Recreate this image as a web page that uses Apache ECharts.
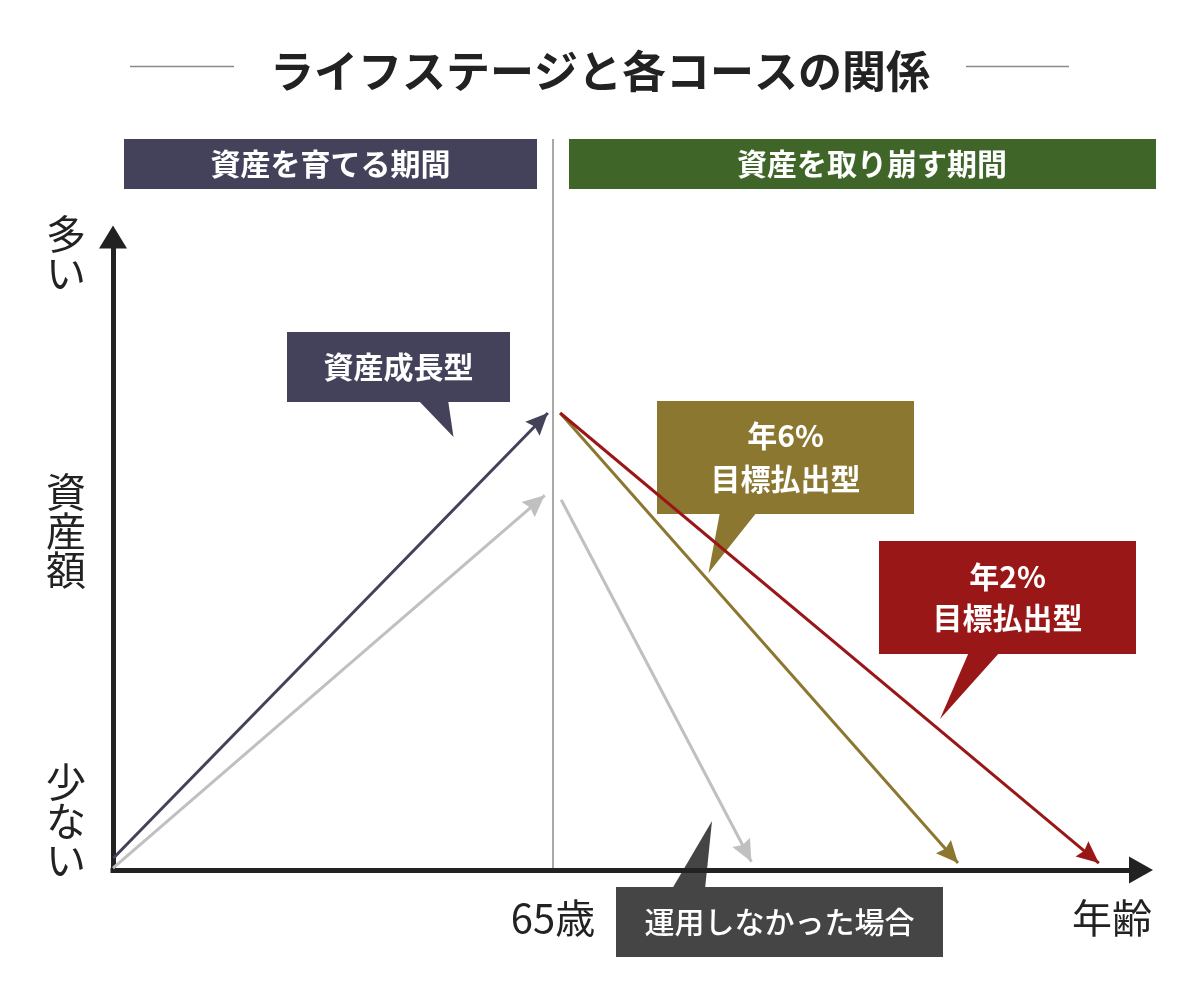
<!DOCTYPE html>
<html lang="ja">
<head>
<meta charset="utf-8">
<title>ライフステージと各コースの関係</title>
<script src="https://cdn.jsdelivr.net/npm/echarts@6/dist/echarts.min.js"></script>
<style>
  html, body { margin: 0; padding: 0; background: #fff; }
  #chart { width: 1200px; height: 1000px; }
</style>
</head>
<body>
<div id="chart"></div>
<script>
// 横軸は年齢、縦軸は資産額（どちらも目盛りなしの相対値 0〜100）
const ageRange = [0, 100];
const assetRange = [0, 100];
const ageTickValues = [42.8];
const ageTickLabels = ['65歳'];
const assetTickValues = [7.7, 53.6, 97.5];
const assetTickLabels = ['少\nな\nい', '資\n産\n額', '多\nい'];

// 各コースの矢印（始点 → 終点）
const courseNames = ['資産成長型', '運用しなかった場合（積立）', '運用しなかった場合（取り崩し）', '年6%目標払出型', '年2%目標払出型'];
const startAge   = [0.05, 0, 43.6, 43.5, 43.5];
const startAsset = [1.9, 0.3, 58.5, 72.2, 72.2];
const endAge     = [42.3, 42.0, 62.1, 82.2, 95.9];
const endAsset   = [72.2, 59.2, 1.3, 1.1, 1.1];

const FONT = '"Noto Sans CJK JP", "Noto Sans", sans-serif';
const NAVY = '#43425a';
const GREEN = '#3f6628';
const OLIVE = '#8b7730';
const RED = '#9a1717';
const LIGHT = '#c0c0c0';
const DARK = '#454545';
const INK = '#222';
const courseColors = [NAVY, LIGHT, LIGHT, OLIVE, RED];
// 先端が上を向いた、後ろが少しへこんだ三角形
const ARROW_HEAD = 'path://M10,0 L20,22 L10,19 L0,22 Z';

// 吹き出し（四角＋しっぽ＋文字）
function callout(box, tail, color, text, weight, lineHeight) {
  return {
    type: 'group',
    z: 100,
    children: [
      { type: 'polygon', shape: { points: tail }, style: { fill: color } },
      { type: 'rect', shape: { x: box[0], y: box[1], width: box[2], height: box[3] }, style: { fill: color } },
      {
        type: 'text',
        style: {
          text: text, x: box[0] + box[2] / 2, y: box[1] + box[3] / 2,
          align: 'center', verticalAlign: 'middle',
          fill: '#fff', fontSize: 30, fontWeight: weight, fontFamily: FONT, lineHeight: lineHeight
        }
      }
    ]
  };
}

function header(x, w, textX, color, text) {
  return {
    type: 'group',
    children: [
      { type: 'rect', shape: { x: x, y: 139, width: w, height: 50 }, style: { fill: color } },
      {
        type: 'text',
        style: {
          text: text, x: textX, y: 164, align: 'center', verticalAlign: 'middle',
          fill: '#fff', fontSize: 30, fontWeight: 'bold', fontFamily: FONT
        }
      }
    ]
  };
}

const chart = echarts.init(document.getElementById('chart'));

const series = courseNames.map(function (name, i) {
  return {
    type: 'line',
    name: name,
    data: [],
    silent: true,
    markLine: {
      silent: true,
      animation: false,
      symbol: ['none', ARROW_HEAD],
      symbolSize: 20,
      label: { show: false },
      emphasis: { disabled: true },
      lineStyle: { color: courseColors[i], width: 3, type: 'solid' },
      data: [[
        { coord: [startAge[i], startAsset[i]], symbol: 'none' },
        { coord: [endAge[i], endAsset[i]], symbol: ARROW_HEAD, symbolSize: [20, 22], symbolOffset: [0, '50%'] }
      ]]
    }
  };
});

chart.setOption({
  backgroundColor: '#fff',
  animation: false,
  title: {
    text: 'ライフステージと各コースの関係',
    left: 'center',
    top: 44,
    textStyle: { fontSize: 44, fontWeight: 'bold', color: INK, fontFamily: FONT, lineHeight: 44 }
  },
  grid: { left: 113, right: 59, top: 237, bottom: 130, containLabel: false, outerBoundsMode: 'none' },
  xAxis: {
    type: 'value',
    min: ageRange[0],
    max: ageRange[1],
    axisLine: {
      show: true, onZero: false,
      symbol: ['none', 'triangle'], symbolSize: [27, 24],
      lineStyle: { color: INK, width: 5, cap: 'square' }
    },
    axisTick: { show: false },
    splitLine: { show: false },
    axisLabel: {
      customValues: ageTickValues,
      formatter: function (v) { return ageTickLabels[ageTickValues.indexOf(v)]; },
      margin: 28, fontSize: 40, lineHeight: 40, color: INK, fontFamily: FONT, verticalAlign: 'top'
    },
    name: '年齢',
    nameLocation: 'end',
    nameGap: 11,
    nameMoveOverlap: false,
    nameTextStyle: {
      fontSize: 40, lineHeight: 40, color: INK, fontFamily: FONT,
      align: 'right', verticalAlign: 'top', padding: [28, 0, 0, 0]
    }
  },
  yAxis: {
    type: 'value',
    min: assetRange[0],
    max: assetRange[1],
    axisLine: {
      show: true, onZero: false,
      symbol: ['none', 'triangle'], symbolSize: [28, 23],
      lineStyle: { color: INK, width: 5, cap: 'square' }
    },
    axisTick: { show: false },
    splitLine: { show: false },
    axisLabel: {
      customValues: assetTickValues,
      formatter: function (v) { return assetTickLabels[assetTickValues.indexOf(v)]; },
      margin: 47, align: 'center', fontSize: 40, lineHeight: 39, color: INK, fontFamily: FONT
    }
  },
  series: series,
  graphic: [
    { type: 'line', shape: { x1: 130, y1: 66.5, x2: 234, y2: 66.5 }, style: { stroke: '#8a8a8a', lineWidth: 1.5 } },
    { type: 'line', shape: { x1: 966, y1: 66.5, x2: 1069, y2: 66.5 }, style: { stroke: '#8a8a8a', lineWidth: 1.5 } },
    header(124, 413, 330.5, NAVY, '資産を育てる期間'),
    header(569, 587, 872, GREEN, '資産を取り崩す期間'),
    { type: 'line', shape: { x1: 553, y1: 139, x2: 553, y2: 868 }, style: { stroke: '#8c8c8c', lineWidth: 1.5 } },
    callout([287, 332, 223, 70], [[418, 400], [448, 400], [453.5, 437]], NAVY, '資産成長型', 'bold', 40),
    callout([657, 401, 257, 113], [[720, 512], [757, 512], [708.5, 573]], OLIVE, '年6%\n目標払出型', 'bold', 43),
    callout([879, 541, 257, 113], [[969, 652], [1000, 652], [940, 719]], RED, '年2%\n目標払出型', 'bold', 41),
    callout([616, 887, 327, 70], [[672, 889], [705, 889], [712, 821]], DARK, '運用しなかった場合', 500, 40)
  ]
});
</script>
</body>
</html>
